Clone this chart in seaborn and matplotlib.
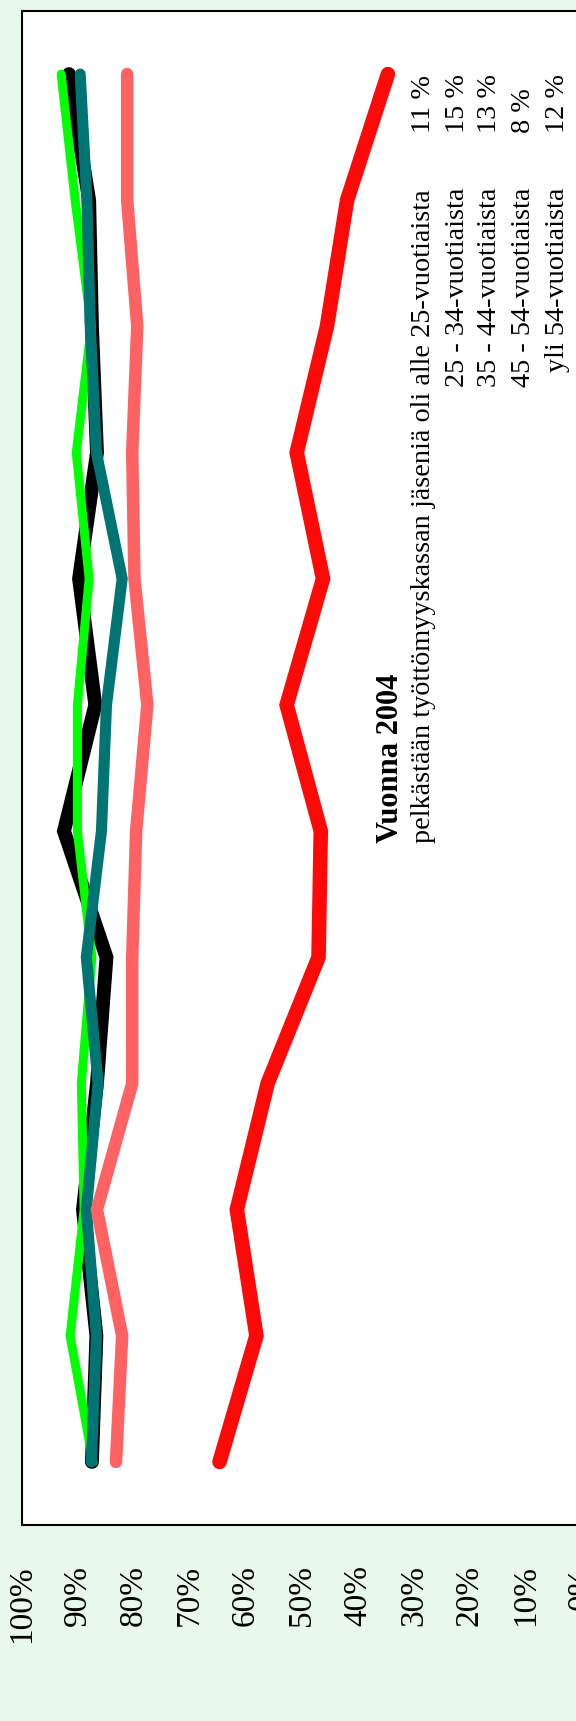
import matplotlib
matplotlib.use("Agg")
import matplotlib.pyplot as plt
import seaborn as sns

# 12 havaintoa vuodelta 2004 (luokka 0 = alin kohta kuvassa)
kuukaudet = list(range(12))

musta = [87.5, 86.7, 89.1, 86.6, 84.9, 92.5, 86.9, 89.8, 86.6, 87.5, 88.0, 91.6]
vihrea = [87.3, 91.4, 88.9, 89.4, 87.5, 90.1, 90.1, 88.0, 90.3, 87.6, 90.5, 93.0]
sinivihrea = [87.6, 86.7, 88.5, 86.4, 88.5, 85.8, 84.9, 82.1, 86.7, 87.8, 88.4, 89.6]
vaaleanpunainen = [83.2, 82.1, 86.6, 80.3, 80.3, 79.6, 77.6, 79.9, 80.3, 79.4, 81.2, 81.2]
punainen = [64.7, 58.1, 61.6, 56.1, 47.0, 46.6, 52.7, 46.2, 50.9, 45.5, 41.9, 34.6]

prosentti_tikit = [100, 90, 80, 70, 60, 50, 40, 30, 20, 10, 0]
prosentti_nimet = [f"{t}%" for t in prosentti_tikit]

ryhmat = ["25 - 34-vuotiaista", "35 - 44-vuotiaista", "45 - 54-vuotiaista", "yli 54-vuotiaista"]
osuudet = ["11 %", "15 %", "13 %", "8 %", "12 %"]

sns.set_style("white")
plt.rcParams["font.family"] = ["Liberation Serif", "DejaVu Serif"]
plt.rcParams["text.color"] = "black"
plt.rcParams["xtick.color"] = "black"

W, H = 576, 1721
fig = plt.figure(figsize=(W / 100, H / 100), dpi=100)
fig.patch.set_facecolor("#E8F8EA")

# akselin sijainti pikseleinä (kuva on käännetty 90 astetta)
left, right, top, bottom = 22, 581.5, 11, 1525
ax = fig.add_axes([left / W, 1 - bottom / H, (right - left) / W, (bottom - top) / H])
ax.set_facecolor("white")

sarjat = [
    (musta, "#000000", 10.0),
    (vihrea, "#00FF00", 6.5),
    (sinivihrea, "#007373", 8.0),
    (vaaleanpunainen, "#FF6262", 9.0),
    (punainen, "#FF0808", 10.5),
]
for arvot, vari, lw in sarjat:
    sns.lineplot(x=arvot, y=kuukaudet, orient="y", sort=False, estimator=None,
                 color=vari, linewidth=lw, ax=ax,
                 solid_capstyle="round", solid_joinstyle="miter")

ax.set_xlim(100, 0)
ax.set_ylim(-0.5, 11.5)
ax.set_xticks(prosentti_tikit)
ax.set_xticklabels(prosentti_nimet, rotation=90, fontsize=24, color="black")
ax.set_yticks([])
ax.tick_params(axis="x", length=0, pad=29, labelcolor="black")
ax.set_xlabel("")
ax.set_ylabel("")
for s in ax.spines.values():
    s.set_color("black")
    s.set_linewidth(1.5)


def px(x, y):
    return x / W, 1 - y / H


fs = 20.3
fig.text(*px(390, 843), "Vuonna 2004", rotation=90, rotation_mode="anchor",
         ha="left", va="center", fontsize=22, fontweight="bold", color="black")
fig.text(*px(424, 843), "pelkästään työttömyyskassan jäseniä oli alle 25-vuotiaista",
         rotation=90, rotation_mode="anchor", ha="left", va="center", fontsize=fs,
         color="black")
rivi_x = [457, 490, 524, 557]
for xx, teksti in zip(rivi_x, ryhmat):
    fig.text(*px(xx, 188), teksti, rotation=90, rotation_mode="anchor",
             ha="right", va="center", fontsize=fs, color="black")
for xx, teksti in zip([424] + rivi_x, osuudet):
    fig.text(*px(xx, 133), teksti, rotation=90, rotation_mode="anchor",
             ha="left", va="center", fontsize=fs, color="black")

fig.savefig("out.png", dpi=100, facecolor=fig.get_facecolor())
